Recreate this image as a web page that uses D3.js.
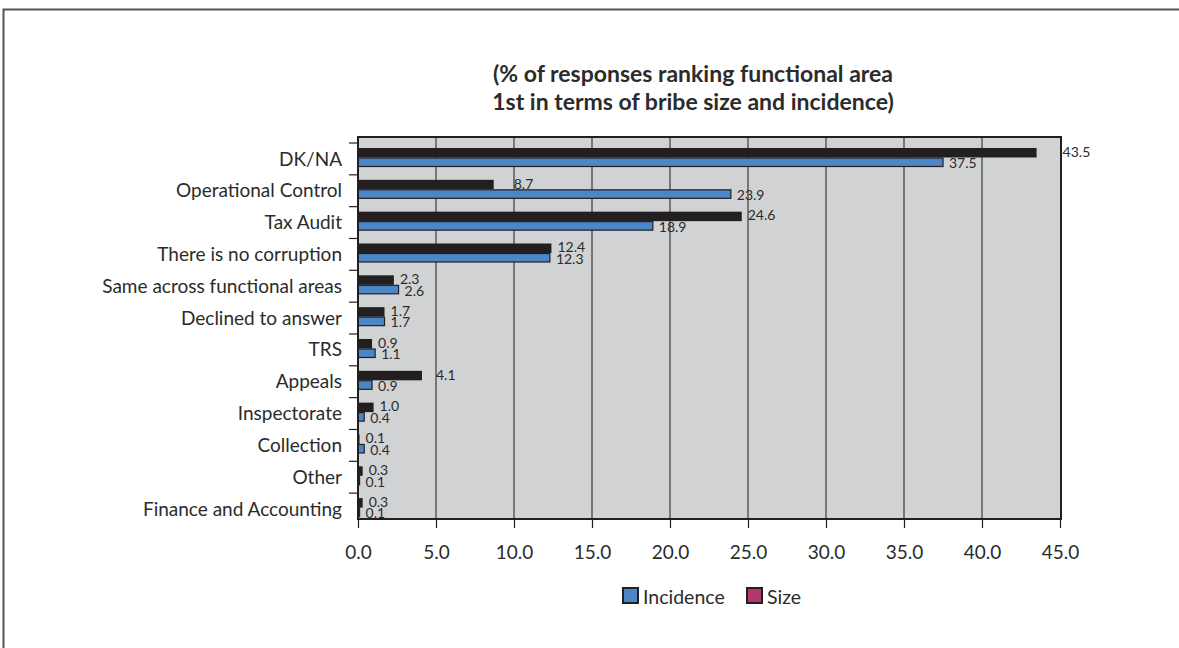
<!DOCTYPE html>
<html>
<head>
<meta charset="utf-8">
<script src="https://cdn.jsdelivr.net/npm/d3@7"></script>
<style>
  html, body { margin: 0; padding: 0; background: #fff; }
  svg { display: block; }
  text { font-family: Lato, "Open Sans", sans-serif; fill: #2b2b2b; }
</style>
</head>
<body>
<svg id="chart" width="1179" height="648"></svg>
<script>
// Functional areas, top to bottom
const categories = [
  "DK/NA", "Operational Control", "Tax Audit", "There is no corruption",
  "Same across functional areas", "Declined to answer", "TRS", "Appeals",
  "Inspectorate", "Collection", "Other", "Finance and Accounting"
];
// % of responses ranking the area 1st by bribe size
const sizeValues = [43.5, 8.7, 24.6, 12.4, 2.3, 1.7, 0.9, 4.1, 1.0, 0.1, 0.3, 0.3];
// % of responses ranking the area 1st by bribe incidence
const incidenceValues = [37.5, 23.9, 18.9, 12.3, 2.6, 1.7, 1.1, 0.9, 0.4, 0.4, 0.1, 0.1];
const xTicks = [0, 5, 10, 15, 20, 25, 30, 35, 40, 45];
const titleLines = [
  "(% of responses ranking functional area",
  "1st in terms of bribe size and incidence)"
];
const legendItems = ["Incidence", "Size"];

const svg = d3.select("#chart");
const ink = "#231f20";

// outer frame (open at right and bottom)
svg.append("path")
  .attr("d", "M3.5,648 V9.5 H1179")
  .attr("fill", "none").attr("stroke", "#555").attr("stroke-width", 2);

const plot = { left: 358, right: 1061, top: 137, bottom: 519 };

const x = d3.scaleLinear().domain([0, 45]).range([plot.left, plot.right - 1]);
const y = d3.scaleBand().domain(categories).range([143, 143 + 31.83 * categories.length]);
const ySub = d3.scaleBand().domain(["size", "incidence"]).range([5, 24]);

// plot background
svg.append("rect")
  .attr("x", plot.left).attr("y", plot.top)
  .attr("width", plot.right - plot.left).attr("height", plot.bottom - plot.top)
  .attr("fill", "#d1d2d4");

// vertical gridlines
svg.append("g").selectAll("line").data(xTicks.slice(1, -1)).join("line")
  .attr("x1", d => x(d)).attr("x2", d => x(d))
  .attr("y1", plot.top).attr("y2", plot.bottom)
  .attr("stroke", "#3a3a3a").attr("stroke-width", 1.2);

// bars
const rows = categories.map((c, i) => ({ c, size: sizeValues[i], incidence: incidenceValues[i] }));
const groups = svg.append("g").selectAll("g").data(rows).join("g")
  .attr("transform", d => `translate(0,${y(d.c)})`);

groups.append("rect")
  .attr("x", x(0)).attr("y", ySub("size"))
  .attr("width", d => x(d.size) - x(0)).attr("height", ySub.bandwidth())
  .attr("fill", ink);

groups.append("rect")
  .attr("x", x(0)).attr("y", ySub("incidence") + 0.5)
  .attr("width", d => Math.max(x(d.incidence) - x(0), 0.5)).attr("height", ySub.bandwidth() - 1)
  .attr("fill", "#4a86c8").attr("stroke", ink).attr("stroke-width", 1.2);

// value labels
const labelNudge = { "DK/NA": 20, "Operational Control": 14, "Appeals": 8 };
groups.append("text")
  .attr("x", d => x(d.size) + 6 + (labelNudge[d.c] || 0))
  .attr("y", ySub("size") + ySub.bandwidth() / 2 - 1.5)
  .attr("dominant-baseline", "central")
  .attr("font-size", 14)
  .text(d => d.size.toFixed(1));

groups.append("text")
  .attr("x", d => x(d.incidence) + 6)
  .attr("y", ySub("incidence") + ySub.bandwidth() / 2 + 0.5)
  .attr("dominant-baseline", "central")
  .attr("font-size", 14)
  .text(d => d.incidence.toFixed(1));

// plot border
svg.append("rect")
  .attr("x", plot.left).attr("y", plot.top)
  .attr("width", plot.right - plot.left).attr("height", plot.bottom - plot.top)
  .attr("fill", "none").attr("stroke", ink).attr("stroke-width", 2);

// y axis ticks and category labels
const yAxis = svg.append("g");
yAxis.selectAll("line").data(categories).join("line")
  .attr("x1", plot.left - 9).attr("x2", plot.left)
  .attr("y1", d => y(d)).attr("y2", d => y(d))
  .attr("stroke", ink).attr("stroke-width", 1.2);
yAxis.selectAll("text").data(categories).join("text")
  .attr("x", plot.left - 16)
  .attr("y", d => y(d) + 15)
  .attr("text-anchor", "end").attr("dominant-baseline", "central")
  .attr("font-size", 19)
  .text(d => d);

// x axis
const xAxis = svg.append("g")
  .attr("transform", `translate(0,${plot.bottom})`)
  .call(d3.axisBottom(x).tickValues(xTicks).tickFormat(d3.format(".1f")).tickSize(9));
xAxis.select(".domain").remove();
xAxis.selectAll("line").attr("stroke", ink).attr("stroke-width", 1.2);
xAxis.selectAll("text")
  .attr("y", 40).attr("dy", null)
  .attr("font-size", 19).attr("font-family", "Lato, sans-serif").attr("fill", "#2b2b2b");

// title
svg.append("g").selectAll("text").data(titleLines).join("text")
  .attr("x", 693).attr("y", (d, i) => 82 + i * 28)
  .attr("text-anchor", "middle")
  .attr("font-size", 23).attr("font-weight", "bold")
  .text(d => d);

// legend
const legendColors = ["#4a86c8", "#b5376f"];
const legendX = [623, 747];
const legend = svg.append("g").selectAll("g").data(legendItems).join("g")
  .attr("transform", (d, i) => `translate(${legendX[i]},588)`);
legend.append("rect")
  .attr("width", 15).attr("height", 15)
  .attr("fill", (d, i) => legendColors[i]).attr("stroke", ink).attr("stroke-width", 2);
legend.append("text")
  .attr("x", 20).attr("y", 8)
  .attr("dominant-baseline", "central")
  .attr("font-size", 19.5)
  .text(d => d);
</script>
</body>
</html>
